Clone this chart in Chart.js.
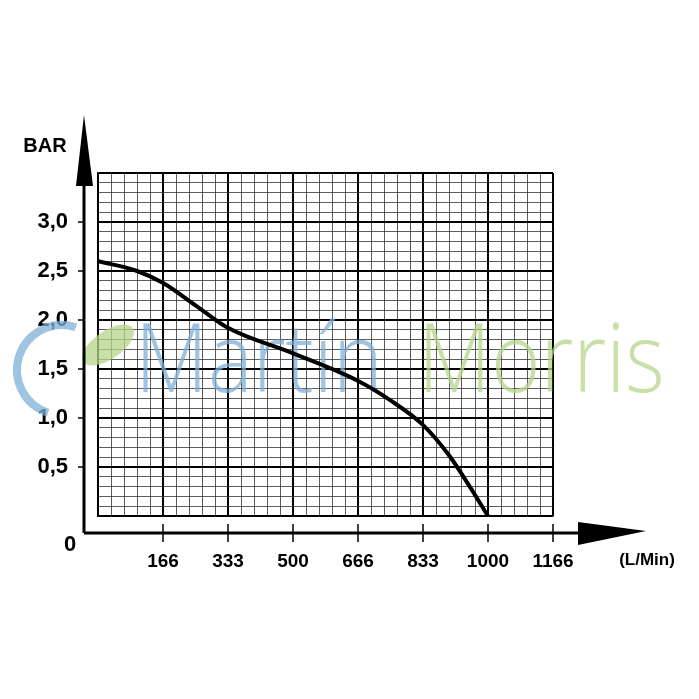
<!DOCTYPE html>
<html><head><meta charset="utf-8">
<script src="https://cdn.jsdelivr.net/npm/chart.js@4/dist/chart.umd.min.js"></script>
<style>html,body{margin:0;padding:0;background:#fff}#w{width:699px;height:699px}</style>
</head><body><div id="w"><canvas id="c"></canvas></div>
<script>
const flow = [0, 100, 166, 250, 333, 500, 666, 750, 833, 900, 950, 1000];
const pressure = [2.6, 2.5, 2.38, 2.15, 1.92, 1.66, 1.38, 1.18, 0.93, 0.62, 0.32, 0.0];
const xTickLabels = ['166', '333', '500', '666', '833', '1000', '1166'];
const yTickLabels = ['0,5', '1,0', '1,5', '2,0', '2,5', '3,0'];
const XMAX = 7000/6, YMAX = 3.5;

const deco = {
  id: 'deco',
  beforeDatasetsDraw(ch) {
    const c = ch.ctx;
    c.save();
    c.globalAlpha = 0.75;
    c.font = '300 96px "Open Sans", sans-serif';
    c.textBaseline = 'alphabetic';
    c.fillStyle = '#7fb0d8';
    c.save(); c.translate(135, 392); c.scale(0.88, 1); c.fillText('Martín', 0, 0); c.restore();
    c.fillStyle = '#b5d68a';
    c.save(); c.translate(418, 392); c.scale(0.88, 1); c.fillText('Morris', 0, 0); c.restore();
    c.lineWidth = 8; c.strokeStyle = '#7fb0d8';
    c.beginPath(); c.arc(62, 370, 45, Math.PI*0.6, Math.PI*1.6); c.stroke();
    c.fillStyle = '#b5d68a';
    c.beginPath(); c.ellipse(108, 345, 30, 14, -0.6, 0, Math.PI*2); c.fill();
    c.restore();
  },
  afterDraw(ch) {
    const c = ch.ctx, xs = ch.scales.x, ys = ch.scales.y;
    c.save();
    c.strokeStyle = '#000'; c.fillStyle = '#000'; c.lineWidth = 3;
    const ax = 84, ay = 533;
    c.beginPath(); c.moveTo(ax, ay); c.lineTo(ax, 140); c.stroke();
    c.beginPath(); c.moveTo(ax, ay); c.lineTo(590, ay); c.stroke();
    c.beginPath(); c.moveTo(76, 186); c.lineTo(84, 115); c.lineTo(93, 186); c.closePath(); c.fill();
    c.beginPath(); c.moveTo(578, 522); c.lineTo(646, 531); c.lineTo(578, 545); c.closePath(); c.fill();
    c.lineWidth = 1.5;
    for (let k = 1; k <= 7; k++) { const x = xs.getPixelForValue(k*XMAX/7); c.beginPath(); c.moveTo(x, 524); c.lineTo(x, 542); c.stroke(); }
    for (let k = 1; k <= 6; k++) { const y = ys.getPixelForValue(k*0.5); c.beginPath(); c.moveTo(78, y); c.lineTo(84, y); c.stroke(); }
    c.font = 'bold 22px Arial, "Liberation Sans", sans-serif';
    c.textAlign = 'center'; c.textBaseline = 'middle';
    c.fillText('0', 70, 545);
    c.font = 'bold 20px Arial, "Liberation Sans", sans-serif';
    c.fillText('BAR', 45, 146);
    c.font = 'bold 17px Arial, "Liberation Sans", sans-serif';
    c.fillText('(L/Min)', 647, 560);
    c.restore();
  }
};

new Chart(document.getElementById('c'), {
  type: 'line',
  data: { datasets: [{ data: flow.map((f, i) => ({x: f, y: pressure[i]})), borderColor: '#000', borderWidth: 4, pointRadius: 0, cubicInterpolationMode: 'monotone' }] },
  options: {
    responsive: true, maintainAspectRatio: false, animation: false,
    layout: { padding: { top: 173, right: 146, left: 0, bottom: 0 } },
    plugins: { legend: { display: false }, tooltip: { enabled: false } },
    scales: {
      x: {
        type: 'linear', min: 0, max: XMAX,
        afterFit(s) { s.height = 183; },
        afterBuildTicks(s) { s.ticks = Array.from({length: 36}, (_, i) => ({value: i*XMAX/35})); },
        ticks: { autoSkip: false, maxRotation: 0, padding: 34, color: '#000', font: { family: 'Arial, "Liberation Sans", sans-serif', size: 19, weight: 'bold' },
          callback(v, i) { return (i % 5 === 0 && i > 0) ? xTickLabels[i/5 - 1] : ''; } },
        grid: { drawTicks: false, color: c => c.index % 5 === 0 ? '#000' : '#333', lineWidth: c => c.index % 5 === 0 ? 2 : 0.8 },
        border: { display: true, color: '#000', width: 1.5 }
      },
      y: {
        min: 0, max: YMAX,
        afterFit(s) { s.width = 98; },
        afterBuildTicks(s) { s.ticks = Array.from({length: 36}, (_, i) => ({value: i/10})); },
        ticks: { autoSkip: false, padding: 30, color: '#000', font: { family: 'Arial, "Liberation Sans", sans-serif', size: 22, weight: 'bold' },
          callback(v, i) { return (i % 5 === 0 && i > 0 && i <= 30) ? yTickLabels[i/5 - 1] : ''; } },
        grid: { drawTicks: false, color: c => c.index % 5 === 0 ? '#000' : '#333', lineWidth: c => c.index % 5 === 0 ? 2 : 0.8 },
        border: { display: true, color: '#000', width: 1.5 }
      }
    }
  },
  plugins: [deco]
});
</script></body></html>
